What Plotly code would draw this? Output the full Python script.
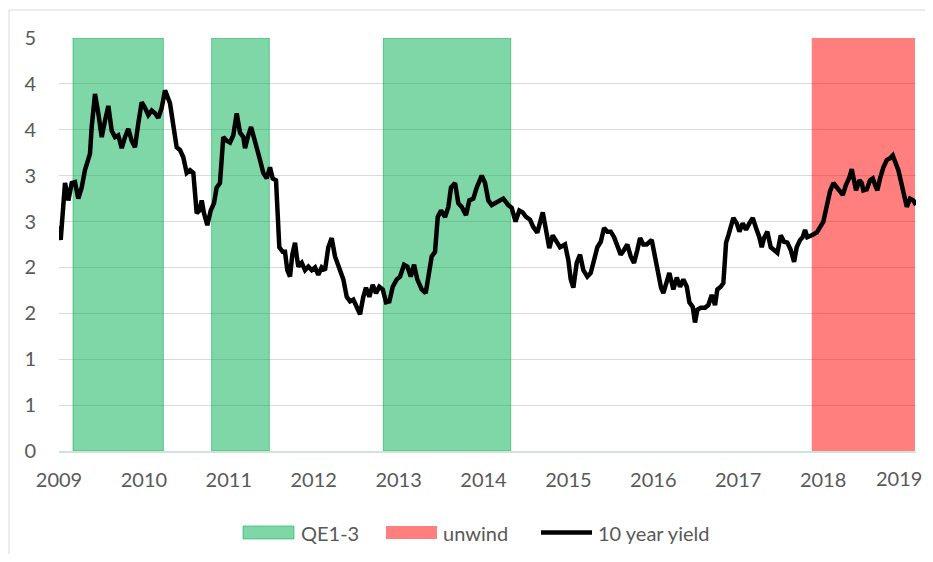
import plotly.graph_objects as go

# ---------------- data ----------------
years = [
    2009.000, 2009.020, 2009.071, 2009.110, 2009.150, 2009.188, 2009.227, 2009.267,
    2009.306, 2009.345, 2009.365, 2009.385, 2009.424, 2009.463, 2009.503, 2009.542,
    2009.581, 2009.621, 2009.660, 2009.698, 2009.739, 2009.777, 2009.816, 2009.856,
    2009.895, 2009.934, 2009.974, 2010.013, 2010.052, 2010.092, 2010.131, 2010.170,
    2010.210, 2010.249, 2010.307, 2010.346, 2010.386, 2010.425, 2010.464, 2010.504,
    2010.543, 2010.582, 2010.622, 2010.653, 2010.681, 2010.708, 2010.747, 2010.787,
    2010.826, 2010.857, 2010.896, 2010.935, 2010.975, 2011.014, 2011.053, 2011.093,
    2011.132, 2011.171, 2011.191, 2011.230, 2011.262, 2011.289, 2011.329, 2011.368,
    2011.406, 2011.446, 2011.485, 2011.517, 2011.556, 2011.595, 2011.635, 2011.662,
    2011.689, 2011.721, 2011.748, 2011.780, 2011.800, 2011.819, 2011.859, 2011.898,
    2011.937, 2011.977, 2012.016, 2012.054, 2012.094, 2012.133, 2012.172, 2012.212,
    2012.251, 2012.290, 2012.349, 2012.389, 2012.428, 2012.467, 2012.507, 2012.546,
    2012.584, 2012.616, 2012.655, 2012.695, 2012.734, 2012.773, 2012.813, 2012.852,
    2012.891, 2012.931, 2012.978, 2013.017, 2013.064, 2013.103, 2013.143, 2013.182,
    2013.220, 2013.272, 2013.319, 2013.350, 2013.390, 2013.429, 2013.461, 2013.500,
    2013.547, 2013.586, 2013.617, 2013.665, 2013.703, 2013.743, 2013.794, 2013.833,
    2013.880, 2013.920, 2013.979, 2014.018, 2014.057, 2014.097, 2014.136, 2014.186,
    2014.233, 2014.292, 2014.332, 2014.377, 2014.422, 2014.462, 2014.501, 2014.548,
    2014.587, 2014.634, 2014.666, 2014.698, 2014.736, 2014.775, 2014.815, 2014.862,
    2014.901, 2014.960, 2014.999, 2015.027, 2015.058, 2015.098, 2015.137, 2015.176,
    2015.223, 2015.263, 2015.302, 2015.341, 2015.381, 2015.420, 2015.459, 2015.499,
    2015.538, 2015.576, 2015.616, 2015.655, 2015.694, 2015.734, 2015.773, 2015.812,
    2015.844, 2015.882, 2015.922, 2015.981, 2016.020, 2016.059, 2016.091, 2016.118,
    2016.158, 2016.189, 2016.236, 2016.276, 2016.315, 2016.354, 2016.394, 2016.425,
    2016.464, 2016.491, 2016.519, 2016.559, 2016.609, 2016.648, 2016.688, 2016.727,
    2016.754, 2016.794, 2016.825, 2016.857, 2016.884, 2016.912, 2016.943, 2016.983,
    2017.014, 2017.053, 2017.092, 2017.131, 2017.171, 2017.210, 2017.249, 2017.277,
    2017.304, 2017.343, 2017.383, 2017.422, 2017.461, 2017.501, 2017.540, 2017.579,
    2017.619, 2017.658, 2017.689, 2017.729, 2017.760, 2017.787, 2017.814, 2017.866,
    2017.925, 2017.964, 2018.003, 2018.043, 2018.082, 2018.121, 2018.161, 2018.200,
    2018.231, 2018.270, 2018.309, 2018.337, 2018.364, 2018.388, 2018.427, 2018.455,
    2018.474, 2018.514, 2018.553, 2018.585, 2018.612, 2018.639, 2018.671, 2018.710,
    2018.750, 2018.789, 2018.820, 2018.847, 2018.886, 2018.926, 2018.953, 2018.985,
    2019.024, 2019.063, 2019.094,
]

yield_10y = [
    2.45, 2.30, 2.92, 2.73, 2.92, 2.93, 2.75, 2.87,
    3.06, 3.20, 3.24, 3.53, 3.89, 3.68, 3.42, 3.60,
    3.76, 3.49, 3.42, 3.44, 3.30, 3.42, 3.51, 3.38,
    3.31, 3.57, 3.80, 3.74, 3.66, 3.71, 3.68, 3.63,
    3.74, 3.93, 3.79, 3.55, 3.31, 3.28, 3.20, 3.03,
    3.06, 3.03, 2.59, 2.62, 2.73, 2.59, 2.46, 2.62,
    2.70, 2.87, 2.92, 3.42, 3.38, 3.36, 3.44, 3.68,
    3.47, 3.42, 3.30, 3.44, 3.53, 3.44, 3.28, 3.17,
    3.03, 2.97, 3.09, 2.97, 2.95, 2.22, 2.17, 2.17,
    1.97, 1.90, 2.14, 2.27, 2.12, 2.01, 2.05, 1.97,
    2.01, 1.97, 2.00, 1.92, 2.00, 1.97, 2.22, 2.32,
    2.12, 2.01, 1.87, 1.68, 1.63, 1.65, 1.57, 1.49,
    1.68, 1.78, 1.68, 1.81, 1.72, 1.79, 1.76, 1.62,
    1.63, 1.79, 1.87, 1.90, 2.03, 2.01, 1.90, 2.03,
    1.87, 1.76, 1.72, 1.90, 2.12, 2.17, 2.55, 2.62,
    2.55, 2.66, 2.87, 2.92, 2.70, 2.66, 2.57, 2.73,
    2.75, 2.87, 3.00, 2.92, 2.73, 2.68, 2.70, 2.73,
    2.75, 2.68, 2.65, 2.50, 2.62, 2.60, 2.55, 2.52,
    2.44, 2.38, 2.48, 2.60, 2.41, 2.21, 2.35, 2.28,
    2.22, 2.25, 2.08, 1.87, 1.78, 2.05, 2.14, 1.97,
    1.90, 1.94, 2.06, 2.22, 2.28, 2.43, 2.39, 2.39,
    2.33, 2.25, 2.14, 2.19, 2.25, 2.12, 2.05, 2.19,
    2.32, 2.25, 2.25, 2.30, 2.12, 1.95, 1.78, 1.72,
    1.87, 1.94, 1.76, 1.89, 1.79, 1.87, 1.79, 1.62,
    1.57, 1.40, 1.54, 1.56, 1.56, 1.59, 1.70, 1.59,
    1.76, 1.79, 1.83, 2.27, 2.35, 2.43, 2.54, 2.48,
    2.39, 2.48, 2.41, 2.48, 2.54, 2.43, 2.33, 2.22,
    2.32, 2.39, 2.22, 2.19, 2.16, 2.35, 2.28, 2.27,
    2.19, 2.06, 2.22, 2.30, 2.33, 2.41, 2.33, 2.35,
    2.38, 2.44, 2.50, 2.67, 2.83, 2.92, 2.87, 2.84,
    2.79, 2.90, 2.98, 3.07, 2.95, 2.84, 2.95, 2.92,
    2.84, 2.85, 2.95, 2.97, 2.90, 2.84, 2.97, 3.09,
    3.17, 3.19, 3.22, 3.15, 3.06, 2.90, 2.79, 2.66,
    2.75, 2.73, 2.68,
]

qe_start = [2009.165, 2010.798, 2012.820]
qe_end = [2010.229, 2011.477, 2014.320]
unwind_start = [2017.866]
unwind_end = [2019.082]
band_top = 4.5

x_ticks = [2009, 2010, 2011, 2012, 2013, 2014, 2015, 2016, 2017, 2018, 2019]
x_labels = ["2009", "2010", "2011", "2012", "2013", "2014", "2015", "2016", "2017", "2018", "2019"]
y_ticks = [0, 0.5, 1, 1.5, 2, 2.5, 3, 3.5, 4, 4.5]
y_labels = ["0", "1", "1", "2", "2", "3", "3", "4", "4", "5"]

legend_names = ["QE1-3", "unwind", "10 year yield"]

# ---------------- layout constants ----------------
# page body has an 8px margin, so the figure sits at (8, 8) in the window;
# keep the figure inside the 933x562 window so nothing overflows.
OFF = 8
WIN_W, WIN_H = 933, 562
W, H = WIN_W - 2 * OFF, WIN_H - 2 * OFF
PLOT_L, PLOT_R, PLOT_T, PLOT_B = 59, 916, 38, 451   # window pixels
ML, MT = PLOT_L - OFF, PLOT_T - OFF
MR, MB = W - (PLOT_R - OFF), H - (PLOT_B - OFF)
PW, PH = W - ML - MR, H - MT - MB
FONT = "Lato, 'Open Sans', sans-serif"
TXT = "#595959"
TICK_FS = 20
XTICK_LEN = 10

def px_x(p):
    return (p - OFF - ML) / PW

def px_y(p):
    return (H - MB - (p - OFF)) / PH

green_fill = "rgba(0,176,80,0.5)"
green_line = "rgba(0,176,80,0.55)"
red_fill = "rgba(255,0,0,0.5)"

fig = go.Figure()

fig.add_trace(go.Bar(
    x=[(s + e) / 2 for s, e in zip(qe_start, qe_end)],
    y=[band_top] * len(qe_start),
    width=[e - s for s, e in zip(qe_start, qe_end)],
    marker=dict(color=green_fill, line=dict(color=green_line, width=1)),
    name=legend_names[0], showlegend=False, hoverinfo="skip",
))
fig.add_trace(go.Bar(
    x=[(s + e) / 2 for s, e in zip(unwind_start, unwind_end)],
    y=[band_top] * len(unwind_start),
    width=[e - s for s, e in zip(unwind_start, unwind_end)],
    marker=dict(color=red_fill, line=dict(width=0)),
    name=legend_names[1], showlegend=False, hoverinfo="skip",
))
fig.add_trace(go.Scatter(
    x=years, y=yield_10y, mode="lines",
    line=dict(color="black", width=4.5),
    name=legend_names[2], showlegend=False,
))

shapes = [
    # chart border
    dict(type="rect", xref="paper", yref="paper",
         x0=px_x(9), x1=px_x(960), y0=px_y(590), y1=px_y(10),
         line=dict(color="#d9d9d9", width=1), fillcolor="rgba(0,0,0,0)", layer="below"),
    # legend swatches
    dict(type="rect", xref="paper", yref="paper",
         x0=px_x(243), x1=px_x(294), y0=px_y(539), y1=px_y(526),
         fillcolor=green_fill, line=dict(color=green_line, width=1)),
    dict(type="rect", xref="paper", yref="paper",
         x0=px_x(386), x1=px_x(437), y0=px_y(539), y1=px_y(526),
         fillcolor=red_fill, line=dict(width=0)),
    dict(type="line", xref="paper", yref="paper",
         x0=px_x(541), x1=px_x(592), y0=px_y(532.5), y1=px_y(532.5),
         line=dict(color="black", width=4.5)),
]

annotations = []
for name, px in zip(legend_names, [299, 441, 596]):
    annotations.append(dict(
        xref="paper", yref="paper", x=px_x(px), y=px_y(532.5),
        text=name, showarrow=False, xanchor="left", yanchor="middle",
        font=dict(family=FONT, size=20, color=TXT),
    ))

# the last x label sits at the very edge of the window: draw it right-aligned
# to the figure edge so it is not clipped
tick_text = x_labels[:-1] + [""]
annotations.append(dict(
    xref="paper", yref="y", x=1.0 + MR / PW, y=0,
    text=x_labels[-1], showarrow=False, xanchor="right", yanchor="top",
    yshift=-(XTICK_LEN + 3), xshift=-1,
    font=dict(family=FONT, size=TICK_FS, color=TXT),
))

fig.update_layout(
    width=W, height=H,
    margin=dict(l=ML, r=MR, t=MT, b=MB, pad=0),
    paper_bgcolor="white", plot_bgcolor="white",
    barmode="overlay",
    showlegend=False,
    shapes=shapes,
    annotations=annotations,
    font=dict(family=FONT, size=20, color=TXT),
    xaxis=dict(
        range=[2009, 2019.094],
        tickmode="array", tickvals=x_ticks, ticktext=tick_text,
        showgrid=False, zeroline=False,
        showline=True, linecolor="#cfe3d6", linewidth=2,
        ticks="outside", ticklen=XTICK_LEN, tickcolor="rgba(0,0,0,0)",
        tickfont=dict(family=FONT, size=TICK_FS, color=TXT),
    ),
    yaxis=dict(
        range=[0, 4.5],
        tickmode="array", tickvals=y_ticks, ticktext=y_labels,
        showgrid=True, gridcolor="#d9d9d9", gridwidth=1,
        zeroline=False, showline=False,
        ticks="outside", ticklen=18, tickcolor="rgba(0,0,0,0)",
        tickfont=dict(family=FONT, size=TICK_FS, color=TXT),
    ),
)

fig.write_html("out.html", config={"displayModeBar": False})
